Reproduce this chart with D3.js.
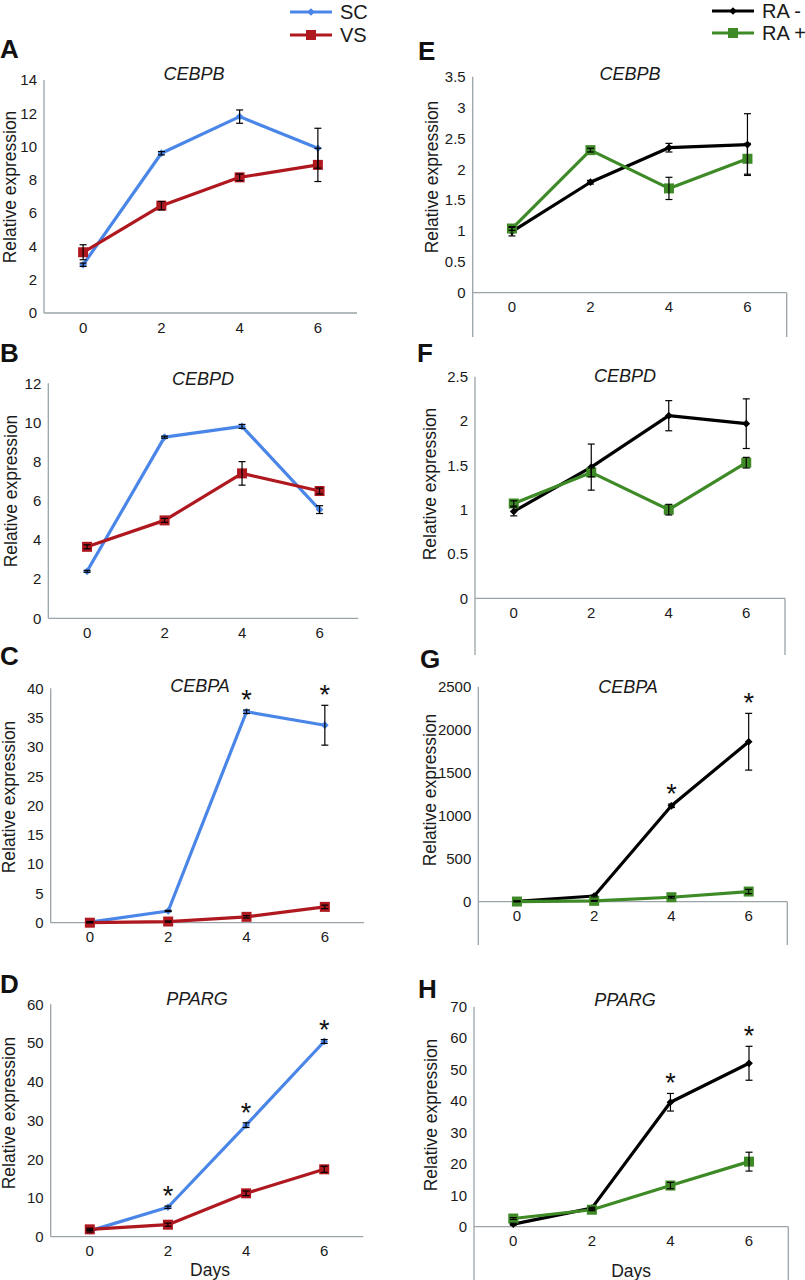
<!DOCTYPE html>
<html><head><meta charset="utf-8">
<script src="https://cdn.jsdelivr.net/npm/d3@7"></script>
<style>
html,body{margin:0;padding:0;background:#fff;}
svg{display:block;font-family:"Liberation Sans",Arial,sans-serif;}
</style></head>
<body>
<svg id="chart" width="805" height="1280"></svg>
<script>
// ---------- DATA ----------
const days = ["0", "2", "4", "6"];
const leftSeriesNames = ["SC", "VS"];
const rightSeriesNames = ["RA -", "RA +"];
const panelLetters = ["A", "B", "C", "D", "E", "F", "G", "H"];
const genes = ["CEBPB", "CEBPD", "CEBPA", "PPARG", "CEBPB", "CEBPD", "CEBPA", "PPARG"];
const yMaxes = [14, 12, 40, 60, 3.5, 2.5, 2500, 70];
const yStepsArr = [2, 2, 5, 10, 0.5, 0.5, 500, 10];

// panel A CEBPB
const cebpbSC = [2.9, 9.6, 11.8, 9.9];
const cebpbSCerr = [0.1, 0.1, 0.4, 1.2];
const cebpbVS = [3.65, 6.45, 8.15, 8.9];
const cebpbVSerr = [0.45, 0.25, 0.2, 1.0];
// panel B CEBPD
const cebpdSC = [2.4, 9.25, 9.8, 5.55];
const cebpdSCerr = [0.05, 0.05, 0.1, 0.2];
const cebpdVS = [3.65, 5.0, 7.4, 6.5];
const cebpdVSerr = [0.1, 0.1, 0.6, 0.15];
// panel C CEBPA
const cebpaSC = [0.1, 2.0, 36.0, 33.7];
const cebpaSCerr = [0.1, 0.1, 0.3, 3.4];
const cebpaVS = [0.0, 0.2, 1.0, 2.7];
const cebpaVSerr = [0.1, 0.1, 0.2, 0.3];
const cebpaLeftSig = [false, false, true, true];
// panel D PPARG
const ppargSC = [1.5, 7.6, 28.8, 50.4];
const ppargSCerr = [0.3, 0.3, 0.6, 0.5];
const ppargVS = [1.9, 3.1, 11.2, 17.4];
const ppargVSerr = [0.3, 0.4, 0.6, 0.8];
const ppargLeftSig = [false, true, true, true];
// panel E CEBPB
const cebpbRAm = [0.99, 1.79, 2.35, 2.40];
const cebpbRAmErr = [0.07, 0.03, 0.07, 0.5];
const cebpbRAp = [1.04, 2.31, 1.69, 2.17];
const cebpbRApErr = [0.03, 0.03, 0.18, 0.25];
// panel F CEBPD
const cebpdRAm = [0.98, 1.48, 2.06, 1.97];
const cebpdRAmErr = [0.05, 0.26, 0.17, 0.28];
const cebpdRAp = [1.07, 1.42, 1.0, 1.53];
const cebpdRApErr = [0.03, 0.05, 0.06, 0.06];
// panel G CEBPA
const cebpaRAm = [5, 66, 1115, 1860];
const cebpaRAmErr = [5, 10, 20, 330];
const cebpaRAp = [2, 10, 52, 118];
const cebpaRApErr = [5, 5, 10, 25];
const cebpaRightSig = [false, false, true, true];
// panel H PPARG
const ppargRAm = [0.8, 5.9, 39.6, 52.0];
const ppargRAmErr = [0.3, 0.3, 2.8, 5.4];
const ppargRAp = [2.6, 5.4, 13.1, 20.7];
const ppargRApErr = [0.3, 0.3, 1.0, 3.0];
const ppargRightSig = [false, false, true, true];
const noSig = [false, false, false, false];

// ---------- BUILD ----------
const panelSeries = [
  [[cebpbSC, cebpbSCerr], [cebpbVS, cebpbVSerr], noSig],
  [[cebpdSC, cebpdSCerr], [cebpdVS, cebpdVSerr], noSig],
  [[cebpaSC, cebpaSCerr], [cebpaVS, cebpaVSerr], cebpaLeftSig],
  [[ppargSC, ppargSCerr], [ppargVS, ppargVSerr], ppargLeftSig],
  [[cebpbRAm, cebpbRAmErr], [cebpbRAp, cebpbRApErr], noSig],
  [[cebpdRAm, cebpdRAmErr], [cebpdRAp, cebpdRApErr], noSig],
  [[cebpaRAm, cebpaRAmErr], [cebpaRAp, cebpaRApErr], cebpaRightSig],
  [[ppargRAm, ppargRAmErr], [ppargRAp, ppargRApErr], ppargRightSig]
];

// layout (pixels)
const layouts = [
  {l:44,  r:357,  t:80,    b:313,    box:null, tx:194, ty:80,   lx:0,   ly:58,   yx:16,  yy:187},
  {l:48.3,r:358.3,t:383.3, b:618.3,  box:null, tx:203, ty:385,  lx:0,   ly:362,  yx:17,  yy:491},
  {l:50.7,r:364,  t:688.3, b:922.7,  box:null, tx:200, ty:692,  lx:0,   ly:665,  yx:15,  yy:797},
  {l:50.7,r:363.3,t:1004.3,b:1236.7, box:null, tx:197, ty:1005, lx:0,   ly:993,  yx:15,  yy:1113},
  {l:472.7,r:786.7,t:76.7, b:292.7,  box:337,  tx:630, ty:80,   lx:418, ly:60,   yx:438, yy:177},
  {l:475, r:785,  t:376.7, b:598.3,  box:655,  tx:625, ty:382,  lx:417, ly:362,  yx:436, yy:484},
  {l:478.3,r:787.3,t:686.7,b:901.7,  box:945,  tx:628, ty:693,  lx:420, ly:668,  yx:436, yy:790},
  {l:474, r:788.3,t:1006.7,b:1226.7, box:1280, tx:625, ty:1006, lx:418, ly:998,  yx:437, yy:1115}
];

const colors = {SC:"#4a86e8", VS:"#b01820", "RA -":"#000000", "RA +":"#3d8a26"};
const axisColor = "#9aa4a8";
const textColor = "#1a1a1a";

const svg = d3.select("#chart");

function marker(g, type, cx, cy, color) {
  if (type === "diamond") {
    g.append("path").attr("d", d3.symbol(d3.symbolDiamond2, 38)())
      .attr("transform", `translate(${cx},${cy})`).attr("fill", color);
  } else {
    g.append("rect").attr("x", cx - 5).attr("y", cy - 5).attr("width", 10).attr("height", 10)
      .attr("fill", color);
  }
}

panelSeries.forEach((ps, i) => {
  const L = layouts[i];
  const isRight = i >= 4;
  const names = isRight ? rightSeriesNames : leftSeriesNames;
  const g = svg.append("g");
  const x = d3.scaleBand().domain(days).range([L.l, L.r]);
  const y = d3.scaleLinear().domain([0, yMaxes[i]]).range([L.b, L.t]);
  const ticks = d3.range(0, yMaxes[i] + yStepsArr[i] / 2, yStepsArr[i]);

  const yAxis = d3.axisLeft(y).tickValues(ticks).tickSize(0).tickPadding(7)
    .tickFormat(d => (+d.toFixed(2)).toString());
  const ya = g.append("g").attr("transform", `translate(${L.l},0)`).call(yAxis);
  ya.select(".domain").remove();
  ya.selectAll("text").attr("font-size", 15).attr("fill", textColor)
    .attr("font-family", "Liberation Sans, Arial, sans-serif");
  g.append("line").attr("x1", L.l).attr("x2", L.l).attr("y1", L.t)
    .attr("y2", L.box ? L.box : L.b).attr("stroke", axisColor).attr("stroke-width", 1.3);
  const xAxis = d3.axisBottom(x).tickSize(0).tickPadding(9);
  const xa = g.append("g").attr("transform", `translate(0,${L.b})`).call(xAxis);
  xa.select(".domain").remove();
  xa.selectAll("text").attr("font-size", 15).attr("fill", textColor)
    .attr("font-family", "Liberation Sans, Arial, sans-serif");
  g.append("line").attr("x1", L.l).attr("x2", L.r).attr("y1", L.b).attr("y2", L.b)
    .attr("stroke", axisColor).attr("stroke-width", 1.3);
  if (L.box) {
    g.append("line").attr("x1", L.r).attr("x2", L.r).attr("y1", L.b).attr("y2", L.box)
      .attr("stroke", axisColor).attr("stroke-width", 1.3);
  }

  g.append("text").attr("x", L.tx).attr("y", L.ty).attr("text-anchor", "middle")
    .attr("font-style", "italic").attr("font-size", 18).attr("fill", textColor).text(genes[i]);
  g.append("text").attr("x", L.lx).attr("y", L.ly).attr("font-weight", "bold")
    .attr("font-size", 26).attr("fill", "#111").text(panelLetters[i]);
  g.append("text").attr("transform", `translate(${L.yx},${L.yy}) rotate(-90)`)
    .attr("text-anchor", "middle").attr("font-size", 17.5).attr("fill", textColor)
    .text("Relative expression");

  const line = d3.line().x((d, k) => x(days[k]) + x.bandwidth() / 2).y(d => y(d));
  [ps[0], ps[1]].forEach((s, si) => {
    const name = names[si];
    const col = colors[name];
    g.append("path").datum(s[0]).attr("d", line).attr("fill", "none")
      .attr("stroke", col).attr("stroke-width", 3.2).attr("stroke-linejoin", "round");
    s[0].forEach((v, k) => {
      marker(g, si === 0 ? "diamond" : "square", x(days[k]) + x.bandwidth() / 2, y(v), col);
    });
  });
  [ps[0], ps[1]].forEach(s => {
    s[0].forEach((v, k) => {
      const cx = x(days[k]) + x.bandwidth() / 2;
      const e = s[1][k];
      const y1 = y(v + e), y2 = y(Math.max(v - e, y.domain()[0]));
      g.append("line").attr("x1", cx).attr("x2", cx).attr("y1", y1).attr("y2", y2)
        .attr("stroke", "#000").attr("stroke-width", 1.2);
      [y1, y2].forEach(yy => g.append("line").attr("x1", cx - 3.5).attr("x2", cx + 3.5)
        .attr("y1", yy).attr("y2", yy).attr("stroke", "#000").attr("stroke-width", 1.2));
    });
  });
  ps[2].forEach((sg, k) => {
    if (!sg) return;
    const top = Math.max(ps[0][0][k] + ps[0][1][k], ps[1][0][k] + ps[1][1][k]);
    g.append("text").attr("x", x(days[k]) + x.bandwidth() / 2).attr("y", y(top) - 1)
      .attr("text-anchor", "middle").attr("font-size", 27).attr("fill", "#111").text("*");
  });
  if (i === 3 || i === 7) {
    g.append("text").attr("x", (L.l + L.r) / 2 + (i === 3 ? 3 : 0)).attr("y", i === 3 ? 1276 : 1277)
      .attr("text-anchor", "middle").attr("font-size", 17.5).attr("fill", textColor).text("Days");
  }
});

function legend(names, x0, ys) {
  names.forEach((n, k) => {
    const g = svg.append("g");
    const col = colors[n];
    g.append("line").attr("x1", x0).attr("x2", x0 + 42).attr("y1", ys[k]).attr("y2", ys[k])
      .attr("stroke", col).attr("stroke-width", 3.2);
    marker(g, k === 0 ? "diamond" : "square", x0 + 21, ys[k], col);
    g.append("text").attr("x", x0 + 50).attr("y", ys[k] + 7).attr("font-size", 20)
      .attr("fill", textColor).text(n);
  });
}
legend(leftSeriesNames, 290, [12, 35]);
legend(rightSeriesNames, 712, [11, 33]);
</script>
</body></html>
